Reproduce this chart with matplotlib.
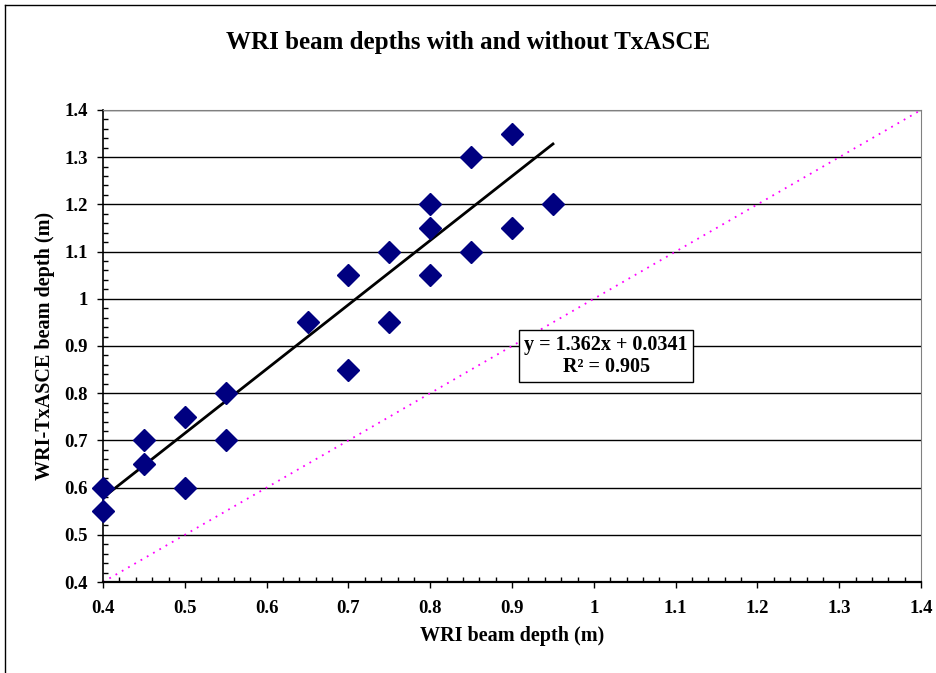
import matplotlib
matplotlib.use('Agg')
import matplotlib.pyplot as plt
import matplotlib.ticker as ticker
from matplotlib.lines import Line2D

wri_depth = [0.4, 0.4, 0.45, 0.45, 0.5, 0.5, 0.55, 0.55, 0.65, 0.7, 0.7,
             0.75, 0.75, 0.8, 0.8, 0.8, 0.85, 0.85, 0.9, 0.9, 0.95]
txasce_depth = [0.6, 0.55, 0.7, 0.65, 0.75, 0.6, 0.8, 0.7, 0.95, 1.05, 0.85,
                1.1, 0.95, 1.2, 1.15, 1.05, 1.3, 1.1, 1.35, 1.15, 1.2]
slope = 1.362
intercept = 0.0341
r_squared = 0.905
fit_range = [0.4, 0.95]
equal_line = [0.4, 1.4]

plt.rcParams['font.family'] = ['Liberation Serif', 'DejaVu Serif']
plt.rcParams['font.weight'] = 'bold'

fig = plt.figure(figsize=(9.37, 6.73), dpi=100)
ax = fig.add_axes([0.110, 0.1352, 0.873, 0.7014])

# chart frame (cropped on right and bottom)
fig.add_artist(Line2D([5 / 937, 1], [1 - 5 / 673, 1 - 5 / 673], color='black', lw=1))
fig.add_artist(Line2D([5 / 937, 5 / 937], [0, 1 - 5 / 673], color='black', lw=1))

ax.plot(equal_line, equal_line, color='magenta', linestyle=(0, (1, 3)), lw=1.3, zorder=2)
fit_y = [slope * x + intercept for x in fit_range]
ax.plot(fit_range, fit_y, color='black', lw=2, zorder=3)
ax.plot(wri_depth, txasce_depth, linestyle='none', marker='D', markersize=11,
        color='#000080', markeredgecolor='#000080', zorder=4, clip_on=False)

ax.set_xlim(0.4, 1.4)
ax.set_ylim(0.4, 1.4)
ax.xaxis.set_major_locator(ticker.MultipleLocator(0.1))
ax.yaxis.set_major_locator(ticker.MultipleLocator(0.1))
ax.xaxis.set_minor_locator(ticker.MultipleLocator(0.02))
ax.yaxis.set_minor_locator(ticker.MultipleLocator(0.02))
fmt = ticker.FuncFormatter(lambda v, p: f'{v:g}')
ax.xaxis.set_major_formatter(fmt)
ax.yaxis.set_major_formatter(fmt)
ax.tick_params(which='major', direction='out', length=4, width=1, labelsize=13.5)
ax.tick_params(axis='y', which='major', pad=7)
ax.tick_params(axis='x', which='major', pad=9)
ax.tick_params(which='minor', direction='in', length=3.5, width=1)
ax.grid(True, which='major', axis='y', color='black', lw=1)
ax.set_axisbelow(True)
for s in ax.spines.values():
    s.set_color('black')
ax.spines['left'].set_linewidth(1.2)
ax.spines['bottom'].set_linewidth(1.6)
ax.spines['top'].set_color('gray')
ax.spines['right'].set_color('gray')

ax.set_xlabel('WRI beam depth (m)', fontsize=14.5, fontweight='bold')
ax.set_ylabel('WRI-TxASCE beam depth (m)', fontsize=14.5, fontweight='bold')
ax.xaxis.set_label_coords(0.5, -0.1145)
ax.yaxis.set_label_coords(-0.0709, 0.5)
ax.xaxis.label.set_va('center')
ax.yaxis.label.set_va('center')
fig.text(0.5, 1 - 43 / 673, 'WRI beam depths with and without TxASCE',
         ha='center', va='center', fontsize=18, fontweight='bold')

ax.text(1.015, 0.879, f'y = {slope}x + {intercept}\nR\u00b2 = {r_squared}',
        ha='center', va='center', fontsize=14.5, fontweight='bold', linespacing=1.15,
        bbox=dict(boxstyle='square,pad=0.25', facecolor='white', edgecolor='black', lw=1),
        zorder=5)

fig.savefig('out.png', dpi=100)
